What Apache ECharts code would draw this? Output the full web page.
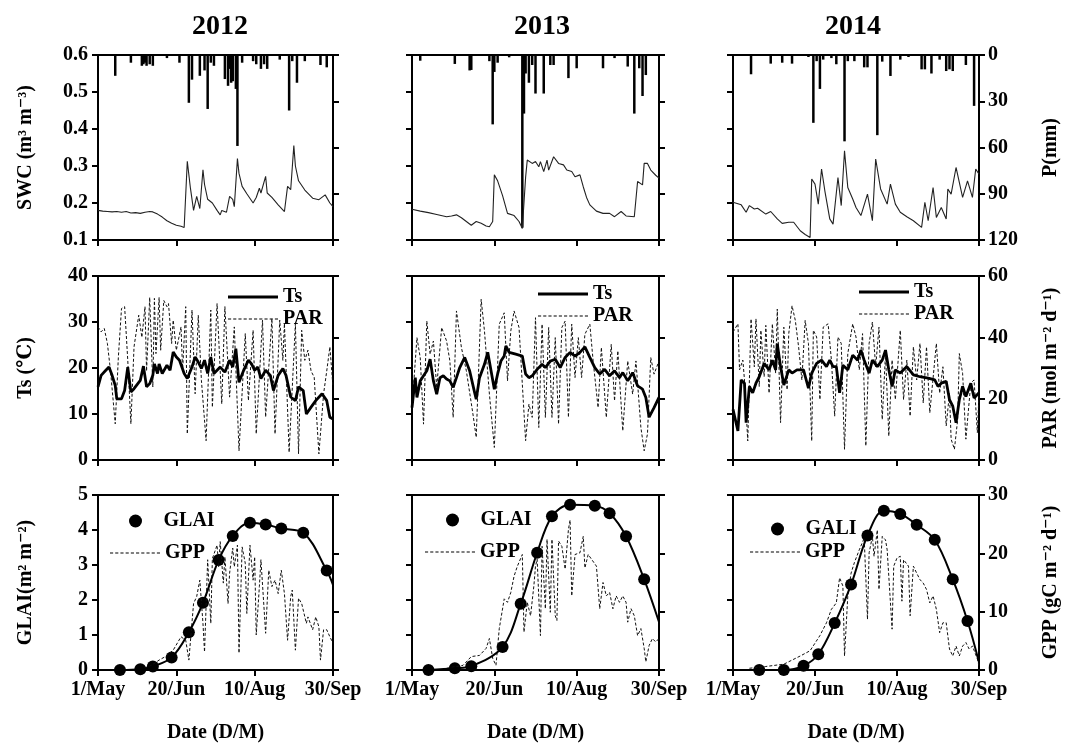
<!DOCTYPE html>
<html><head><meta charset="utf-8">
<script src="https://cdn.jsdelivr.net/npm/echarts@6/dist/echarts.min.js"></script>
<style>html,body{margin:0;padding:0;background:#fff}#c{width:1075px;height:744px}</style>
</head><body><div id="c"></div>
<script>
// ---------- DATA (day index from 1 May) ----------
const years = ['2012', '2013', '2014'];
const dateLabels = ['1/May', '20/Jun', '10/Aug', '30/Sep'];
const glaiLegendNames = ['GLAI', 'GLAI', 'GALI'];

const P2012 = [[11,13.5],[21,5],[28,7],[29,6],[30,5],[31,7],[33,6],[35,7],[44,2],[52,5],[58,31],[60,16],[65,13.5],[68,10],[70,35],[72,5],[74,7],[81,15.6],[83,20],[84,9],[85,18],[86,17],[88,22],[89,59],[92,5],[99,4],[101,6],[104,9],[106,6],[108,9],[116,3],[122,36],[124,4],[127,18],[132,4],[142,6.5],[146,8]];
const P2013 = [[5,3.7],[26,5.8],[35,10],[36,9.7],[47,4],[49,45],[50,11],[52,5],[59,1.5],[67,112],[68,38],[69,12],[71,18],[73,6.5],[75,25],[80,25],[84,6.5],[86,6.5],[95,15],[100,8.6],[116,8.6],[123,2],[131,7.5],[135,38],[138,8.6],[140,26.6],[142,13]];
const P2014 = [[11,12.5],[23,5.6],[30,5],[36,5.6],[46,1.3],[49,44],[51,4],[53,22],[55,3],[60,2],[63,6],[68,56],[70,4],[74,4],[80,8],[82,8],[88,52],[91,4.3],[96,13.6],[102,3],[107,1.3],[115,9.3],[117,9.3],[121,12],[126,3],[130,10.4],[132,9.3],[134,10.4],[142,6.5],[147,33]];

const SWC2012 = [[0,0.18],[3,0.178],[6,0.177],[9,0.176],[12,0.177],[15,0.175],[18,0.177],[21,0.173],[24,0.174],[27,0.172],[30,0.175],[33,0.177],[35,0.176],[38,0.17],[41,0.162],[44,0.152],[47,0.145],[50,0.14],[53,0.137],[55,0.134],[57,0.313],[59,0.24],[61,0.18],[63,0.218],[65,0.185],[67,0.29],[68,0.25],[70,0.21],[73,0.2],[76,0.18],[78,0.168],[79,0.18],[82,0.175],[84,0.218],[86,0.21],[87,0.19],[89,0.32],[90,0.28],[92,0.245],[95,0.225],[99,0.2],[101,0.215],[103,0.24],[104,0.227],[107,0.272],[108,0.227],[111,0.215],[115,0.195],[119,0.177],[121,0.245],[123,0.236],[125,0.355],[126,0.3],[128,0.26],[132,0.235],[137,0.213],[141,0.209],[145,0.222],[148,0.2],[150,0.19]];
const SWC2013 = [[0,0.183],[5,0.178],[10,0.174],[15,0.169],[21,0.163],[24,0.165],[27,0.168],[30,0.16],[33,0.15],[36,0.14],[39,0.15],[42,0.145],[45,0.138],[47,0.136],[49,0.15],[50,0.276],[52,0.26],[55,0.22],[58,0.172],[62,0.166],[65,0.15],[67,0.131],[69,0.27],[70,0.316],[71,0.32],[73,0.307],[75,0.312],[77,0.298],[78,0.312],[80,0.285],[82,0.316],[83,0.289],[86,0.325],[89,0.307],[92,0.303],[94,0.289],[97,0.285],[99,0.271],[102,0.276],[104,0.244],[106,0.215],[108,0.195],[112,0.178],[116,0.172],[120,0.172],[123,0.163],[127,0.177],[130,0.165],[135,0.163],[137,0.258],[138,0.262],[140,0.249],[141,0.307],[143,0.307],[145,0.289],[148,0.275],[150,0.267]];
const SWC2014 = [[0,0.202],[5,0.195],[8,0.175],[10,0.193],[13,0.184],[15,0.186],[20,0.17],[23,0.177],[27,0.157],[30,0.145],[34,0.148],[37,0.148],[41,0.125],[44,0.115],[47,0.107],[48,0.265],[50,0.251],[52,0.197],[54,0.292],[56,0.233],[59,0.157],[61,0.143],[64,0.269],[66,0.193],[68,0.341],[70,0.242],[73,0.211],[75,0.188],[78,0.166],[79,0.17],[82,0.224],[85,0.152],[87,0.319],[90,0.238],[94,0.197],[96,0.251],[99,0.197],[102,0.175],[106,0.163],[110,0.152],[115,0.134],[117,0.202],[119,0.152],[122,0.242],[124,0.161],[127,0.188],[130,0.157],[131,0.238],[133,0.224],[136,0.296],[140,0.215],[143,0.26],[146,0.215],[148,0.292],[150,0.278]];

const Ts2012 = [[0,15.9],[2,18.4],[5,19.5],[7,20.2],[9,18.4],[11,16.2],[12,13.3],[15,13.3],[17,15.1],[19,20.2],[21,14.8],[23,15.5],[27,17.3],[29,20.4],[31,15.9],[33,16.6],[35,18.4],[36,20.9],[38,18.8],[39,20.9],[41,18.8],[44,20.6],[46,19.5],[48,23.5],[50,22.4],[52,21.7],[55,18.8],[57,17.7],[60,20.2],[62,22.4],[64,21.3],[66,19.9],[68,21.7],[70,18.8],[72,22.4],[74,18.8],[78,20.2],[81,19.1],[84,21.7],[86,20.2],[88,24.2],[90,16.9],[93,19.5],[96,21.7],[98,20.9],[100,19.5],[102,20.2],[104,17.7],[107,19.5],[110,18.4],[112,15.1],[115,18.4],[118,19.9],[120,18.4],[123,13.7],[126,12.9],[128,15.9],[131,15.1],[133,10],[136,11.5],[139,12.9],[143,14.4],[146,12.9],[148,9.3],[150,8.9]];
const Ts2013 = [[0,11.4],[1,11.4],[2,17.9],[3,13.6],[5,17.2],[7,18.3],[9,19.4],[11,21.9],[13,17.2],[15,14.3],[17,17.9],[19,18.3],[21,17.6],[23,17.2],[25,15.8],[27,17.9],[29,20.1],[32,22.3],[35,19.4],[38,14.7],[39,13.2],[41,17.9],[44,20.8],[46,23.4],[48,19.4],[50,15.4],[52,18.7],[54,21.5],[56,22.6],[57,24.8],[59,23.4],[63,23],[67,22.6],[69,18.7],[71,17.9],[73,18.3],[76,19.7],[79,20.8],[81,20.1],[84,21.5],[87,21.9],[90,20.1],[93,22.3],[96,23.4],[99,22.6],[102,23.4],[105,24.6],[108,22.3],[111,20.1],[114,18.7],[117,19.7],[120,18.3],[123,19.4],[126,17.9],[128,19],[131,17.2],[134,19],[137,16.1],[140,15.4],[142,13.6],[144,9.3],[147,11.4],[150,13.6]];
const Ts2014 = [[0,11],[1,11],[3,6.3],[5,17.4],[7,16.7],[8,8.1],[10,16],[12,14.6],[14,16.7],[16,18.1],[19,21],[22,19.6],[24,21.7],[26,19.6],[27,25.3],[29,20.3],[31,16.3],[34,19.6],[36,18.9],[39,19.6],[43,19.6],[46,15.6],[48,18.9],[51,21],[54,21.7],[57,20.3],[59,21.7],[61,20.3],[63,20.3],[65,14.6],[67,20.6],[70,19.6],[73,22.8],[76,21.7],[78,23.9],[80,21.7],[83,18.9],[85,21.7],[88,20.3],[91,21.7],[93,23.9],[95,19.6],[97,16],[99,19.6],[102,18.9],[106,20.3],[110,18.5],[114,18.1],[119,17.8],[123,17.4],[125,16],[127,16.7],[130,17.1],[132,13.1],[134,11.7],[136,8.1],[138,13.1],[140,16],[142,13.8],[145,16.7],[147,13.5],[150,14.6]];

const PAR2012 = [[0,43.4],[2,41.8],[4,42.9],[6,38],[8,29],[11,11.8],[13,33.6],[15,49.4],[17,50],[19,32.5],[21,11.8],[23,36.9],[26,47.2],[28,40],[30,50],[31,29],[33,53],[35,23.8],[36,52.7],[37,34.7],[39,53],[40,35.8],[42,52],[44,50],[45,51],[47,38],[48,45.6],[50,35.8],[53,43.4],[54,29],[56,50],[57,8.5],[60,48.9],[62,21.6],[64,47.2],[66,26],[69,6.3],[72,48.9],[73,17.2],[76,51],[79,18.3],[81,50],[84,20.5],[87,43.4],[90,3],[94,41.2],[96,19.4],[99,42.3],[101,8.5],[105,45.6],[107,14],[111,46.1],[113,8.5],[116,45.6],[118,32.5],[119,44.5],[122,2.5],[126,44.5],[128,2],[130,42.3],[132,32.5],[134,35.8],[136,29],[138,27],[141,2],[144,21.6],[146,29],[148,36.9],[150,23.8]];
const PAR2013 = [[0,17.1],[1,17.1],[3,39.9],[5,33.4],[7,11.7],[9,45.3],[11,34.5],[13,38.8],[15,23.6],[18,43.2],[21,38.8],[23,32.3],[25,13.9],[27,48.6],[30,36.7],[33,29.1],[37,15],[39,7.4],[42,52.4],[44,42.1],[47,21.5],[50,4.1],[53,44.3],[56,48],[58,25.8],[60,42.1],[62,48.6],[65,43.2],[69,6.3],[71,18.2],[73,13.9],[75,46.4],[77,10.6],[79,44.3],[81,13.9],[83,43.2],[85,13.9],[87,39.9],[89,11.7],[91,43.2],[93,45.3],[95,13.9],[97,44.3],[99,26.9],[101,39.9],[103,26.9],[105,41],[108,44.3],[110,32.3],[113,17.1],[115,36.7],[118,13.9],[121,37.7],[123,19.3],[125,35.6],[128,9.5],[131,32.3],[134,21.5],[136,32.3],[139,10.6],[141,3],[143,8.5],[145,33.4],[147,28],[150,32.3]];
const PAR2014 = [[0,41.7],[1,41.7],[3,44.4],[4,29.4],[6,32.6],[7,26.1],[9,6.2],[11,46],[13,30.4],[14,46],[16,24],[17,42.3],[19,27.2],[20,43.9],[22,21.8],[24,44.4],[26,28.3],[27,49.2],[29,12.2],[31,43.3],[33,22.9],[34,41.2],[36,50.3],[38,45.5],[40,36.9],[42,26.1],[44,45.5],[46,38],[48,6.2],[49,42.3],[51,40.1],[53,19.7],[55,43.3],[58,44.4],[60,32.6],[62,14.3],[64,40.1],[66,38],[68,3.5],[70,34.7],[73,44.4],[75,40.1],[77,29.4],[79,41.2],[81,4.6],[83,38],[85,45],[87,30.4],[89,43.3],[91,13.2],[93,34.7],[95,7.8],[97,32.6],[99,19.7],[102,42.3],[104,19.7],[106,32.6],[108,14.3],[110,36.9],[112,26.1],[114,38],[116,18.6],[118,36.9],[120,15.4],[124,38],[126,21.8],[128,30.4],[130,11.1],[132,21.8],[133,6.8],[135,3.5],[137,13.2],[138,34.7],[140,28.3],[142,6.8],[145,25.1],[147,26.1],[149,8.9],[150,21.8]];

const GLAI2012 = [[14,0],[27,0.02],[35,0.1],[47,0.36],[58,1.08],[67,1.92],[77,3.14],[86,3.83],[97,4.21],[107,4.16],[117,4.04],[131,3.92],[146,2.84]];
const GLAI2013 = [[10,0],[26,0.05],[36,0.11],[55,0.66],[66,1.89],[76,3.35],[85,4.39],[96,4.72],[111,4.69],[120,4.48],[130,3.82],[141,2.59]];
const GLAI2014 = [[16,0],[31,0],[43,0.12],[52,0.45],[62,1.34],[72,2.44],[82,3.84],[92,4.55],[102,4.46],[112,4.15],[123,3.72],[134,2.59],[143,1.4]];
const GLAIcurveEnd = [[150,2.43],[150,1.37],[150,0.22]];

const GPP2012 = [[20,0],[26,0.1],[33,0.6],[39,1.7],[43,2.3],[48,3.4],[53,5.7],[56,5.1],[58,1.7],[61,11.4],[63,12.6],[65,15.4],[67,8],[68,3.1],[70,18.9],[72,8],[73,19.1],[76,21.4],[77,17.7],[78,22],[80,14.9],[81,19.4],[83,11.4],[84,16.6],[86,20.9],[87,17.7],[89,21.4],[90,2.9],[92,21.1],[94,18.3],[95,9.7],[97,21.4],[99,15.4],[100,19.4],[101,6],[103,14.3],[104,18.9],[107,6.3],[109,17.1],[111,14.3],[113,15.4],[115,13.1],[117,17.1],[119,13.1],[121,5.1],[123,12.6],[124,13.7],[126,3.4],[128,12.3],[130,11.4],[133,8],[134,9.1],[137,6.9],[139,9.1],[141,7.4],[142,1.7],[144,6.9],[146,6.9],[148,5.7],[150,4.6]];
const GPP2013 = [[21,0.3],[31,0.8],[36,2.3],[41,2.5],[45,3.7],[47,5.4],[49,2],[51,0.8],[53,7.1],[56,12.2],[58,11.6],[60,13.3],[62,16.1],[64,17.8],[67,19.8],[68,6.5],[70,11.6],[72,9.3],[74,14.4],[75,17.8],[76,19],[78,5.9],[79,21.2],[81,10.5],[82,22.4],[84,9.9],[85,22.4],[87,9.3],[88,8.5],[89,22.1],[91,21.2],[93,17.3],[95,24.1],[96,25.7],[97,12.7],[99,19.8],[102,20.1],[104,22.9],[105,17.5],[107,19.8],[109,19],[112,17.8],[114,10.5],[116,15],[118,12.7],[120,13.3],[122,10.5],[124,12.7],[126,11.6],[128,12.7],[130,11.6],[131,8.2],[133,10.5],[135,9.3],[137,5.9],[139,7.1],[141,3.7],[142,1.4],[144,4.2],[146,5.4],[148,4.8],[150,5.4]];
const GPP2014 = [[10,0.3],[20,0.6],[31,1],[41,2.4],[47,3.3],[53,5.9],[57,8.1],[60,10.4],[63,11.5],[65,15.8],[67,14.4],[68,2.4],[70,12.7],[72,16.6],[74,18.4],[77,20.6],[80,22.6],[82,8.7],[83,20.1],[85,22.9],[86,19.5],[88,24],[89,13.8],[91,22.9],[93,22.3],[94,20.6],[97,7],[98,17.8],[100,19.2],[102,19.5],[103,11.8],[104,18.9],[107,17.8],[108,9.3],[110,17.8],[112,16.6],[114,15.5],[116,14.9],[118,13.8],[120,11.5],[122,12.7],[124,10.4],[126,6.4],[128,8.1],[130,8.1],[132,3.6],[134,2.4],[136,4.1],[138,2.4],[140,4.1],[142,4.7],[144,3.6],[146,4.1],[149,1.9],[150,0.7]];

const Pdata = [P2012, P2013, P2014];
const SWCdata = [SWC2012, SWC2013, SWC2014];
const Tsdata = [Ts2012, Ts2013, Ts2014];
const PARdata = [PAR2012, PAR2013, PAR2014];
const GLAIdata = [GLAI2012, GLAI2013, GLAI2014];
const GPPdata = [GPP2012, GPP2013, GPP2014];

// ---------- LAYOUT ----------
const FONT = '"Liberation Serif","Times New Roman","DejaVu Serif",serif';
const colL = [98, 412, 733], colW = [235, 247, 246];
const rowT = [55, 276, 495], rowH = [185, 184, 175];
const TXT = {fontFamily: FONT, fontWeight: 'bold', fontSize: 20, color: '#000'};

const leftAx = [
  {min: 0.1, max: 0.6, interval: 0.1, name: 'SWC (m³ m⁻³)', fmt: v => v.toFixed(1)},
  {min: 0, max: 40, interval: 10, name: 'Ts (℃)', fmt: v => v},
  {min: 0, max: 5, interval: 1, name: 'GLAI(m² m⁻²)', fmt: v => v}
];
const rightAx = [
  {min: 0, max: 120, interval: 30, name: 'P(mm)', inverse: true},
  {min: 0, max: 60, interval: 20, name: 'PAR (mol m⁻² d⁻¹)'},
  {min: 0, max: 30, interval: 10, name: 'GPP (gC m⁻² d⁻¹)'}
];

const grids = [], xAxes = [], yAxes = [], series = [];
const axLine = {show: true, onZero: false, lineStyle: {color: '#000', width: 2}};
const axTick = {show: true, length: 6, lineStyle: {color: '#000', width: 2}};
const dashStyle = {color: '#111', width: 1, type: [3, 2]};

for (let r = 0; r < 3; r++) {
  for (let c = 0; c < 3; c++) {
    const gi = r * 3 + c;
    grids.push({left: colL[c], top: rowT[r], width: colW[c], height: rowH[r], show: true, borderColor: '#000', borderWidth: 2});
    xAxes.push({
      type: 'value', gridIndex: gi, min: 0, max: 150, interval: 50,
      axisLine: axLine, axisTick: axTick, splitLine: {show: false},
      axisLabel: Object.assign({show: r === 2, margin: 10, formatter: v => dateLabels[Math.round(v / 50)]}, TXT),
      name: r === 2 ? 'Date (D/M)' : '', nameLocation: 'middle', nameGap: 53,
      nameTextStyle: TXT
    });
    const L = leftAx[r], R = rightAx[r];
    yAxes.push({
      type: 'value', gridIndex: gi, position: 'left', min: L.min, max: L.max, interval: L.interval,
      axisLine: axLine, axisTick: axTick, splitLine: {show: false},
      axisLabel: Object.assign({show: c === 0, margin: 10, formatter: L.fmt}, TXT),
      name: c === 0 ? L.name : '', nameLocation: 'middle', nameRotate: 90, nameGap: 62,
      nameTextStyle: TXT
    });
    yAxes.push({
      type: 'value', gridIndex: gi, position: 'right', min: R.min, max: R.max, interval: R.interval, inverse: !!R.inverse,
      axisLine: axLine, axisTick: axTick, splitLine: {show: false},
      axisLabel: Object.assign({show: c === 2, margin: 9}, TXT),
      name: c === 2 ? R.name : '', nameLocation: 'middle', nameRotate: 90, nameGap: 62,
      nameTextStyle: TXT
    });
    const yl = gi * 2, yr = gi * 2 + 1;
    if (r === 0) {
      series.push({type: 'bar', name: 'P', xAxisIndex: gi, yAxisIndex: yr, data: Pdata[c], barWidth: 2.5,
        itemStyle: {color: '#000'}, silent: true});
      series.push({type: 'line', name: 'SWC', xAxisIndex: gi, yAxisIndex: yl, data: SWCdata[c], symbol: 'none',
        itemStyle: {color: '#000'}, lineStyle: {color: '#222', width: 1.1}, silent: true});
    } else if (r === 1) {
      series.push({type: 'line', name: 'PAR', xAxisIndex: gi, yAxisIndex: yr, data: PARdata[c], symbol: 'none',
        itemStyle: {color: '#000'}, lineStyle: dashStyle, silent: true});
      series.push({type: 'line', name: 'Ts', xAxisIndex: gi, yAxisIndex: yl, data: Tsdata[c], symbol: 'none',
        itemStyle: {color: '#000'}, lineStyle: {color: '#000', width: 2.8}, silent: true});
    } else {
      series.push({type: 'line', name: 'GPP', xAxisIndex: gi, yAxisIndex: yr, data: GPPdata[c], symbol: 'none',
        itemStyle: {color: '#000'}, lineStyle: dashStyle, silent: true});
      series.push({type: 'line', name: 'GLAI curve', xAxisIndex: gi, yAxisIndex: yl,
        data: GLAIdata[c].concat([GLAIcurveEnd[c]]), symbol: 'none', smooth: 0.35,
        itemStyle: {color: '#000'}, lineStyle: {color: '#000', width: 2}, silent: true});
      series.push({type: 'scatter', name: glaiLegendNames[c], xAxisIndex: gi, yAxisIndex: yl, data: GLAIdata[c],
        symbol: 'circle', symbolSize: 12, itemStyle: {color: '#000', opacity: 1}, silent: true});
    }
  }
}

// ---------- LEGENDS (one component per entry) ----------
const legTxt = Object.assign({}, TXT, {lineHeight: 16});
let dashPath = 'path://';
for (let i = 0; i < 10; i++) dashPath += 'M' + (i * 5) + ',0h3v1h-3z';
const solidPath = 'path://M0,0h50v3h-50z';
function legendEntry(name, icon, left, cy, w, h) {
  return {left: left, top: cy - 8, itemWidth: w, itemHeight: h, padding: 0, itemGap: 0,
    selectedMode: false, textStyle: legTxt,
    data: [{name: name, icon: icon, itemStyle: {color: '#000', borderWidth: 0, opacity: 1}}]};
}
const legends = [];
const tsLeg = [[228, 295, 317], [538, 292, 314], [859, 290, 312]];
tsLeg.forEach(p => {
  legends.push(legendEntry('Ts', solidPath, p[0], p[1], 50, 3));
  legends.push(legendEntry('PAR', dashPath, p[0], p[2], 50, 1.3));
});
const dotLeg = [[129, 518], [446, 517], [771, 526]];
const gppLeg = [[110, 551], [425, 550], [750, 550]];
for (let c = 0; c < 3; c++) {
  legends.push({left: dotLeg[c][0], top: dotLeg[c][1] - 7, itemWidth: 46, itemHeight: 13, padding: 0,
    selectedMode: false, textStyle: legTxt,
    data: [{name: glaiLegendNames[c], icon: 'circle', itemStyle: {color: '#000', opacity: 1}}]});
  legends.push(legendEntry('GPP', dashPath, gppLeg[c][0], gppLeg[c][1], 50, 1.3));
}

// ---------- TITLES ----------
const titleX = [215, 537, 848];
const titles = years.map((y, i) => ({text: y, left: titleX[i], top: 8, textAlign: 'center',
  textStyle: {fontFamily: FONT, fontWeight: 'bold', fontSize: 28, color: '#000'}}));

const chart = echarts.init(document.getElementById('c'), null, {renderer: 'canvas'});
chart.setOption({
  animation: false,
  backgroundColor: '#fff',
  title: titles,
  legend: legends,
  grid: grids,
  xAxis: xAxes,
  yAxis: yAxes,
  series: series
});
</script></body></html>
